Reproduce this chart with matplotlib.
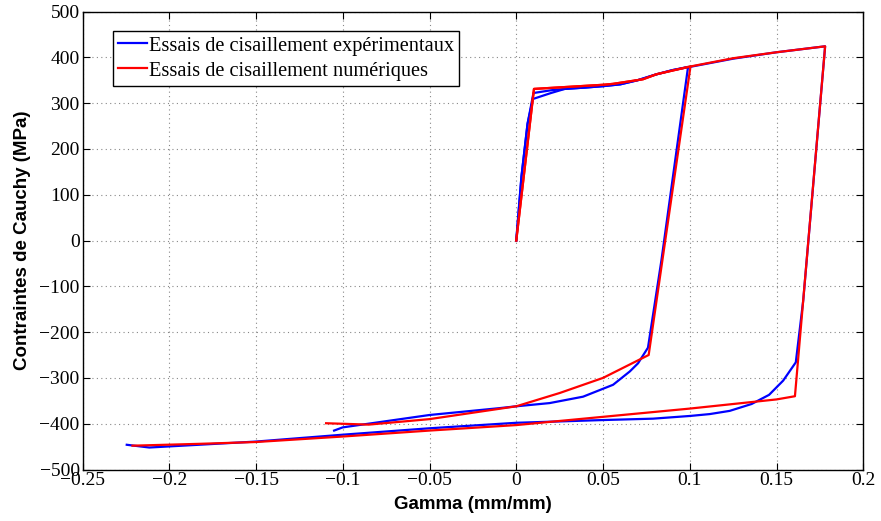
import matplotlib
matplotlib.use("Agg")
import matplotlib.pyplot as plt

# Experimental test 1 (loading to 0.1, reverse to -0.105)
exp1_x = [0, 0.003, 0.0065, 0.0096, 0.02, 0.028, 0.04, 0.05, 0.06, 0.07, 0.08, 0.09, 0.099,
          0.0837, 0.0759, 0.0702, 0.0654, 0.0558, 0.0385, 0.0192, 0.0, -0.0096, -0.05, -0.1, -0.105]
exp1_y = [0, 140, 255, 309, 322, 331, 334, 337, 341, 350, 362, 372, 379,
          -42, -234, -268, -286, -315, -341, -355, -362, -366, -381, -408, -415]

# Experimental test 2 (loading to 0.178, reverse to -0.225)
exp2_x = [0, 0.003, 0.0065, 0.0099, 0.02, 0.028, 0.04, 0.05, 0.06, 0.07, 0.08, 0.09, 0.1,
          0.125, 0.15, 0.178, 0.1654, 0.1611, 0.1538, 0.1457, 0.1356, 0.123, 0.1115, 0.1004,
          0.0788, 0.0502, 0.0, -0.05, -0.1, -0.15, -0.183, -0.2115, -0.2245]
exp2_y = [0, 140, 255, 322, 328, 331, 334, 337, 341, 350, 362, 372, 379,
          397, 411, 424, -130, -266, -306, -337, -357, -372, -379, -383,
          -389, -392, -398, -410, -424, -439, -446, -452, -446]

# Numerical test 1
num1_x = [0, 0.0102, 0.05, 0.0557, 0.073, 0.0808, 0.1004,
          0.0763, 0.05, 0.025, 0.0, -0.05, -0.085, -0.1096]
num1_y = [0, 331, 340, 342, 352, 363, 380,
          -250, -300, -333, -362, -390, -402, -399]

# Numerical test 2
num2_x = [0, 0.0102, 0.05, 0.0557, 0.073, 0.0808, 0.1004, 0.125, 0.15, 0.178,
          0.1606, 0.15, 0.1, 0.05, 0.0, -0.05, -0.1, -0.15, -0.183, -0.2212]
num2_y = [0, 331, 340, 342, 352, 363, 380, 398, 411, 424,
          -340, -347, -367, -385, -403, -415, -428, -440, -444, -448]

xticks = [-0.25, -0.2, -0.15, -0.1, -0.05, 0, 0.05, 0.1, 0.15, 0.2]
xticklabels = ["\u22120.25", "\u22120.2", "\u22120.15", "\u22120.1", "\u22120.05", "0", "0.05", "0.1", "0.15", "0.2"]
yticks = list(range(-500, 501, 100))
yticklabels = [("\u2212" + str(-v)) if v < 0 else str(v) for v in yticks]

fig = plt.figure(figsize=(8.81, 5.21), dpi=100)
ax = fig.add_axes([82.5 / 881, 1 - 469.5 / 521, (863.3 - 82.5) / 881, (469.5 - 11.5) / 521])

lw = 1.6
l1, = ax.plot(exp1_x, exp1_y, color="#0000ff", lw=lw)
ax.plot(exp2_x, exp2_y, color="#0000ff", lw=lw)
l2, = ax.plot(num1_x, num1_y, color="#ff0000", lw=lw)
ax.plot(num2_x, num2_y, color="#ff0000", lw=lw)

ax.set_xlim(-0.25, 0.2)
ax.set_ylim(-500, 500)
ax.set_xticks(xticks)
ax.set_xticklabels(xticklabels, family="Liberation Serif", fontsize=14)
ax.set_yticks(yticks)
ax.set_yticklabels(yticklabels, family="Liberation Serif", fontsize=14)
ax.tick_params(direction="in", length=5, width=0.8, top=True, right=True, pad=2)
ax.grid(True, color="#888888", linestyle=(0, (1, 3)), linewidth=0.8)
for s in ax.spines.values():
    s.set_linewidth(1.0)

ax.set_xlabel("Gamma (mm/mm)", family="Liberation Sans", fontweight="bold", fontsize=13.5, labelpad=5)
ax.set_ylabel("Contraintes de Cauchy (MPa)", family="Liberation Sans", fontweight="bold", fontsize=13.5, labelpad=6)

leg = ax.legend([l1, l2], ["Essais de cisaillement expérimentaux", "Essais de cisaillement numériques"],
                loc="upper left", bbox_to_anchor=(0.039, 0.957), prop={"family": "Liberation Serif", "size": 14.7},
                fancybox=False, edgecolor="black", framealpha=1, handlelength=1.4, handletextpad=0.1,
                borderpad=0.25, labelspacing=0.28, borderaxespad=0)
leg.get_frame().set_linewidth(1.0)

fig.savefig("out.png", dpi=100)
